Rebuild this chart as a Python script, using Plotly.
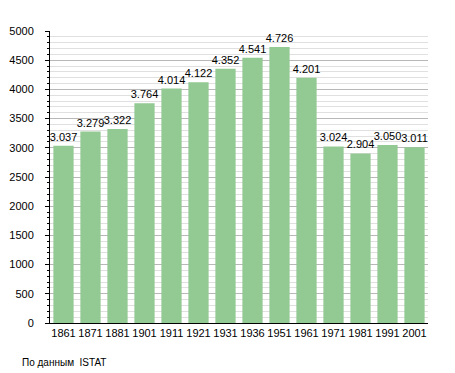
import plotly.graph_objects as go

years = ["1861", "1871", "1881", "1901", "1911", "1921", "1931", "1936", "1951", "1961", "1971", "1981", "1991", "2001"]
population = [3037, 3279, 3322, 3764, 4014, 4122, 4352, 4541, 4726, 4201, 3024, 2904, 3050, 3011]
labels = [f"{v:,}".replace(",", ".") for v in population]

fig = go.Figure(go.Bar(
    x=years, y=population, text=labels, textposition="outside",
    marker=dict(color="#93c993", line=dict(width=0)),
    textfont=dict(family="Liberation Sans, Arial", size=11, color="black"),
    constraintext="none",
    cliponaxis=False,
))

# page body has an 8px default margin, so the figure is a bit smaller than the window
fig.update_layout(
    width=447, height=365,
    margin=dict(l=42, r=27, t=23, b=50, autoexpand=False),
    plot_bgcolor="white", paper_bgcolor="white",
    bargap=0.25,
    showlegend=False,
    font=dict(family="Liberation Sans, Arial", size=11, color="black"),
    annotations=[dict(text="По данным  ISTAT", xref="paper", yref="paper",
                      x=-30/378, y=-39/292,
                      showarrow=False, xanchor="left", yanchor="middle",
                      font=dict(size=10, color="black"))],
)

fig.update_xaxes(
    showline=True, linecolor="black", linewidth=1, ticks="", showgrid=False,
    tickfont=dict(size=11), fixedrange=True, automargin=False,
)
fig.update_yaxes(
    range=[0, 5000], dtick=500, showline=True, linecolor="black", linewidth=1,
    ticks="outside", ticklen=4, tickcolor="black", ticklabelstandoff=9,
    showgrid=True, gridcolor="#b8b8b8", gridwidth=1,
    minor=dict(dtick=100, showgrid=True, gridcolor="#e0e0e0", ticks="outside", ticklen=2, tickcolor="black"),
    tickfont=dict(size=11), zeroline=False, automargin=False,
)

fig.write_html("out.html")
